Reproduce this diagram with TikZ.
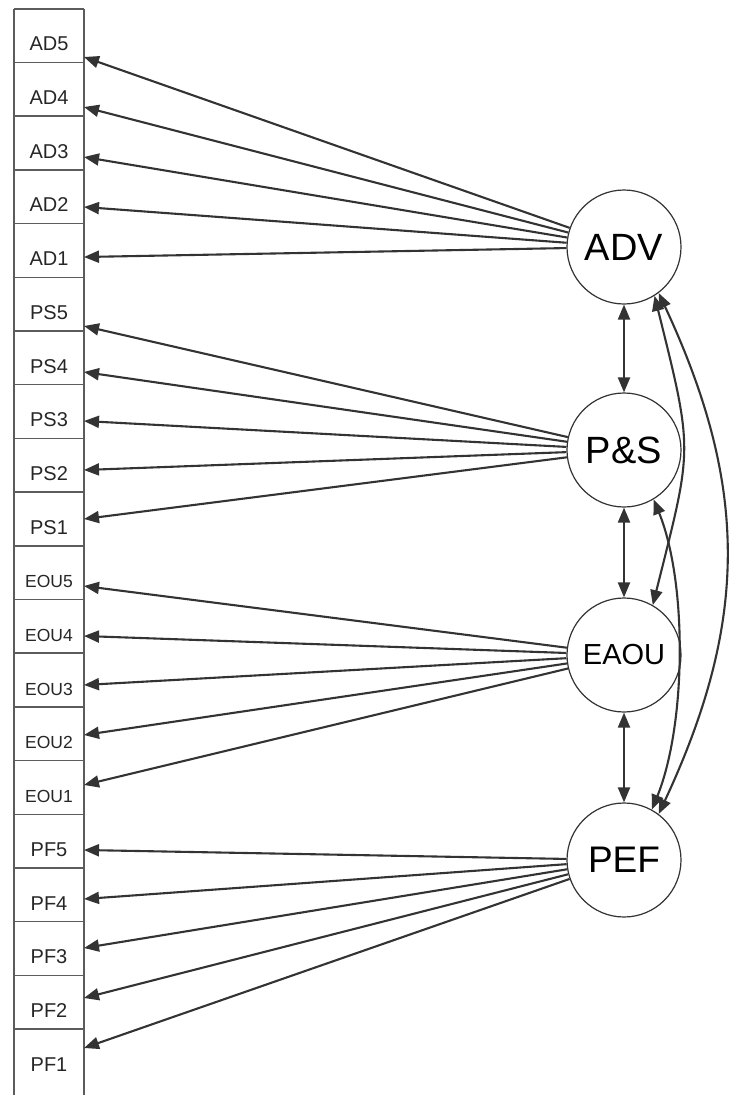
\documentclass[tikz,border=0pt]{standalone}
\usepackage{fontspec}
\setmainfont{Liberation Sans}
\usetikzlibrary{arrows.meta}

\definecolor{linegray}{HTML}{333333}
\definecolor{boxgray}{HTML}{5C5C5C}

\tikzset{
        >={Triangle[length=15pt,width=12pt]},
        item/.style={minimum width=70pt, minimum height=53.7pt, inner sep=0pt,
                text height=30pt, text depth=0pt, text=black!85},
        frame/.style={draw=boxgray, line width=1.5pt},
        factor/.style={circle, draw=linegray, line width=1.2pt, minimum size=114pt,
                inner sep=0pt, fill=white},
        loading/.style={->, draw=linegray, line width=2.1pt},
        covar/.style={<->, draw=linegray, line width=2.1pt}
}

\begin{document}
\begin{tikzpicture}[x=1pt, y=1pt]
        \useasboundingbox (0, 0) rectangle (732, -1095);
        \clip (0, 0) rectangle (732, -1095);

        % indicator column
        \foreach \nm/\tip/\fs [count=\i from 0] in {AD5/57/20, AD4/107/20, AD3/157/20, AD2/207/20, AD1/257/20,
                PS5/326/20, PS4/372/20, PS3/421/20, PS2/470/20, PS1/519/20,
                EOU5/586/17.5, EOU4/636/17.5, EOU3/685/17.5, EOU2/735/17.5, EOU1/785/17.5,
                PF5/850/20, PF4/899/20, PF3/948/20, PF2/998/20, PF1/1048/20} {
                \node[item, font=\fontsize{\fs}{\fs}\selectfont] (\nm) at (49, {-35.85-53.7*\i}) {\nm};
                \coordinate (\nm-in) at (84, -\tip);
                \draw[frame] (\nm.north west) -- (\nm.north east);
        }
        \draw[frame] (AD5.north west) -- ++(0, -1100);
        \draw[frame] (AD5.north east) -- ++(0, -1100);

        % latent factors
        \node[factor, font=\fontsize{38}{38}\selectfont] (ADV) at (624, -247) {ADV};
        \node[factor, font=\fontsize{38}{38}\selectfont] (PS) at (624, -450) {P\&S};
        \node[factor, font=\fontsize{29}{29}\selectfont] (EAOU) at (624, -655) {EAOU};
        \node[factor, font=\fontsize{37}{37}\selectfont] (PEF) at (624, -860) {PEF};

        % loadings
        \foreach \nm in {AD5, AD4, AD3, AD2, AD1}
                \draw[loading] (ADV) -- (\nm-in);
        \foreach \nm in {PS5, PS4, PS3, PS2, PS1}
                \draw[loading] (PS) -- (\nm-in);
        \foreach \nm in {EOU5, EOU4, EOU3, EOU2, EOU1}
                \draw[loading] (EAOU) -- (\nm-in);
        \foreach \nm in {PF5, PF4, PF3, PF2, PF1}
                \draw[loading] (PEF) -- (\nm-in);

        % covariances
        \draw[covar] (ADV) -- (PS);
        \draw[covar] (PS) -- (EAOU);
        \draw[covar] (EAOU) -- (PEF);
        \draw[covar] (ADV.-58) to[out=-76, in=76, looseness=1.35] (EAOU.60);
        \draw[covar] (PS.-59) to[out=-68, in=68, looseness=0.75] (PEF.61);
        \draw[covar] (ADV.-53) to[out=-65, in=65, looseness=1.05] (PEF.53);
\end{tikzpicture}
\end{document}
